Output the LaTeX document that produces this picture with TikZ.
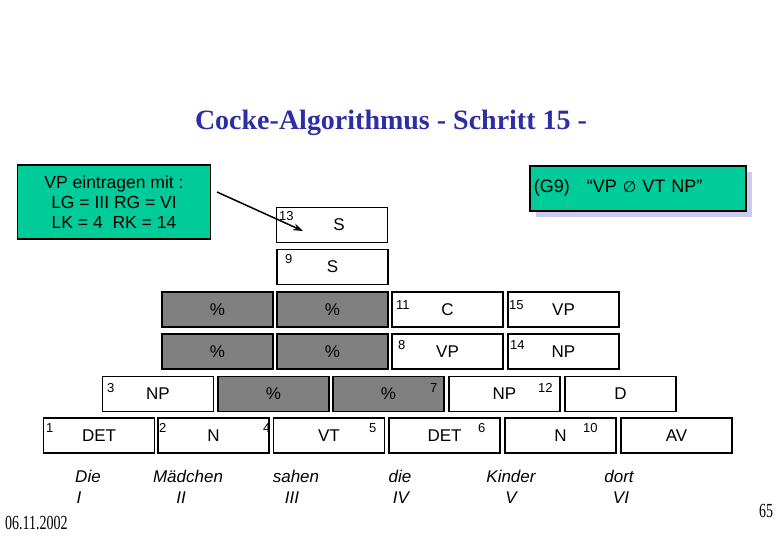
\documentclass[tikz,border=0pt]{standalone}
\usepackage{fontspec}
\usepackage{graphicx}
\setmainfont{Liberation Sans}
\newfontfamily\seriffam{Liberation Serif}
\newfontfamily\dejavu{DejaVu Sans}
\usetikzlibrary{arrows.meta}
\definecolor{cgray}{RGB}{128,128,128}
\definecolor{cgreen}{RGB}{0,204,153}
\definecolor{cshadow}{RGB}{204,204,240}
\definecolor{ctitle}{RGB}{45,45,165}
\begin{document}
\begin{tikzpicture}[x=1pt,y=-1pt,
  cell/.style={draw, line width=1.6pt, minimum width=111pt, minimum height=35pt, inner sep=0pt, font=\fontsize{17}{20}\selectfont},
  gcell/.style={cell, fill=cgray},
  num/.style={anchor=north west, inner sep=0pt, font=\fontsize{13}{13}\selectfont},
  word/.style={anchor=base, inner sep=0pt, font=\fontsize{17}{20}\itshape},
  gbox/.style={draw, line width=1.6pt, fill=cgreen, inner sep=0pt, font=\fontsize{17.5}{20}\selectfont}
]
\useasboundingbox (0,0) rectangle (780,540);
\fill[white] (0,0) rectangle (780,540);

% title
\node[anchor=base, inner sep=0pt, text=ctitle, font=\seriffam\bfseries\fontsize{28}{30}\selectfont] (title) at (391,130) {Cocke-Algorithmus - Schritt 15 -};

% info box
\node[gbox, minimum width=193pt, minimum height=74pt, align=center] (info) at (114,202) {VP eintragen mit :\\LG = III RG = VI\\LK = 4~~RK = 14};

% rule box with shadow
\fill[cshadow] (536,172) rectangle (752,217);
\node[gbox, anchor=north west, minimum height=45pt, text width=208pt, inner xsep=4pt, align=left, font=\fontsize{18}{20}\selectfont] (rule) at (529,165) {(G9)\hspace{17pt}“VP {\dejavu\fontsize{15.5}{16}\selectfont ∅} VT NP”};

% row 6 and 5
\node[cell] (r6) at (332,225) {\hspace*{14pt}S};
\node[cell] (r5) at (332.5,267) {S};
% row 4
\node[gcell] (r4a) at (217.5,309.5) {\%};
\node[gcell] (r4b) at (332.5,309.5) {\%};
\node[cell] (r4c) at (447.5,309.5) {C};
\node[cell] (r4d) at (563.5,309.5) {VP};
% row 3
\node[gcell] (r3a) at (217.5,351.5) {\%};
\node[gcell] (r3b) at (332.5,351.5) {\%};
\node[cell] (r3c) at (447.5,351.5) {VP};
\node[cell] (r3d) at (563.5,351.5) {NP};
% row 2
\node[cell] (r2a) at (158,394) {NP};
\node[gcell] (r2b) at (273.5,394) {\%};
\node[gcell] (r2c) at (388.5,394) {\%};
\node[cell] (r2d) at (504.5,394) {NP};
\node[cell] (r2e) at (620.5,394) {D};
% row 1
\node[cell] (r1a) at (99,435.5) {DET};
\node[cell] (r1b) at (213.5,435.5) {N};
\node[cell] (r1c) at (329,435.5) {VT};
\node[cell] (r1d) at (444.5,435.5) {DET};
\node[cell] (r1e) at (560.5,435.5) {N};
\node[cell] (r1f) at (676.5,435.5) {AV};

% small numbers
\node[num] (n13) at (279,211) {13};
\node[num] (n9) at (285,254) {9};
\node[num] (n11) at (396,300) {11};
\node[num] (n15) at (509,300) {15};
\node[num] (n8) at (398,340) {8};
\node[num] (n14) at (510,340) {14};
\node[num] (n3) at (107,383) {3};
\node[num] (n7) at (430,383) {7};
\node[num] (n12) at (538,383) {12};
\node[num] (n1) at (46,423) {1};
\node[num] (n2) at (159,423) {2};
\node[num] (n4) at (263,423) {4};
\node[num] (n5) at (369,423) {5};
\node[num] (n6) at (478,423) {6};
\node[num] (n10) at (583,423) {10};

% arrow
\coordinate (as) at (217,192);
\coordinate (ae) at (303,231);
\draw[line width=1.5pt, -{Stealth[length=10pt,width=7pt]}] (as) -- (ae);

% words
\node[word] (w1) at (88,482) {Die};
\node[word] (w1r) at (79,503) {I};
\node[word] (w2) at (188,482) {Mädchen};
\node[word] (w2r) at (181,503) {II};
\node[word] (w3) at (296,482) {sahen};
\node[word] (w3r) at (292,503) {III};
\node[word] (w4) at (400,482) {die};
\node[word] (w4r) at (401,503) {IV};
\node[word] (w5) at (511,482) {Kinder};
\node[word] (w5r) at (511,503) {V};
\node[word] (w6) at (619,482) {dort};
\node[word] (w6r) at (621,503) {VI};

% footer
\node[anchor=base west, inner sep=0pt] (date) at (5,529) {\scalebox{0.7}[1]{\seriffam\fontsize{20}{20}\selectfont 06.11.2002}};
\node[anchor=base west, inner sep=0pt] (page) at (759,517) {\scalebox{0.7}[1]{\seriffam\fontsize{20}{20}\selectfont 65}};
\end{tikzpicture}
\end{document}
